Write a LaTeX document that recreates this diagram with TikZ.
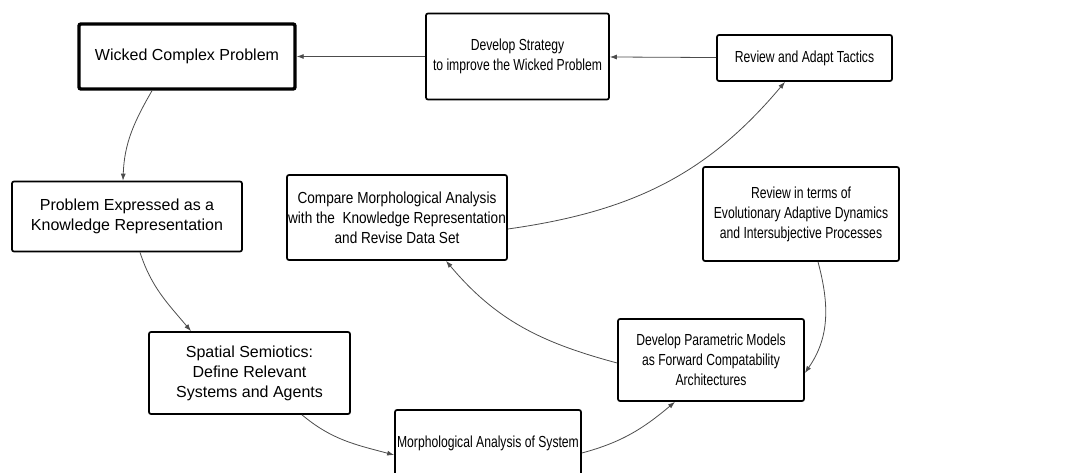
\documentclass[tikz,border=0pt]{standalone}
\usepackage{fontspec}
\setmainfont{Liberation Sans}
\newfontfamily\narrowsans{Liberation Sans}[FakeStretch=0.76]
\newfontfamily\midsans{Liberation Sans}[FakeStretch=0.85]
\usetikzlibrary{positioning, arrows.meta}

\begin{document}
\begin{tikzpicture}[node distance=160pt, auto,
    box/.style={rectangle, draw, line width=1.7pt, rounded corners=2pt, align=center, inner sep=1pt,
        font=\fontsize{16}{20}\selectfont},
    narrowbox/.style={box, font=\narrowsans\fontsize{16}{20}\selectfont},
    flow/.style={-{Latex[length=7pt,width=5pt]}, draw=black!70, line width=0.8pt}]
            \useasboundingbox (0pt,0pt) rectangle (1092pt,-473pt);

            % Nodes
            \node (wicked) [box, line width=3.4pt, minimum width=216pt, minimum height=65pt] at (187pt,-56.5pt) {Wicked Complex Problem};
            \node (strategy) [narrowbox, minimum width=183pt, minimum height=86pt, right of=wicked, xshift=170.5pt] {Develop Strategy\\to improve the Wicked Problem};
            \node (tactics) [narrowbox, minimum width=175pt, minimum height=46pt, right of=strategy, xshift=127pt, yshift=-1.5pt] {Review and Adapt Tactics};
            \node (problem) [box, minimum width=230pt, minimum height=70pt, below of=wicked, xshift=-60pt] {Problem Expressed as a\\Knowledge Representation};
            \node (compare) [box, font=\midsans\fontsize{16}{20}\selectfont, minimum width=220pt, minimum height=85pt, right of=problem, xshift=110pt, yshift=-1pt] {Compare Morphological Analysis\\with the~ Knowledge Representation\\and Revise Data Set};
            \node (review) [narrowbox, minimum width=196pt, minimum height=94pt, below of=tactics, xshift=-3.5pt, yshift=4pt] {Review in terms of\\Evolutionary Adaptive Dynamics\\and Intersubjective Processes};
            \node (spatial) [box, minimum width=201pt, minimum height=82pt, below of=problem, xshift=122.5pt, yshift=3.5pt] {Spatial Semiotics:\\Define Relevant\\Systems and Agents};
            \node (parametric) [narrowbox, minimum width=186pt, minimum height=82pt, below of=review, xshift=-90pt, yshift=14pt] {Develop Parametric Models\\as Forward Compatability\\Architectures};
            \node (morph) [narrowbox, minimum width=186pt, minimum height=66pt, right of=spatial, xshift=78.5pt, yshift=-70pt] {Morphological Analysis of System};

            % Arrows
            \draw[flow] (tactics) -- (strategy);
            \draw[flow] (strategy) -- (wicked);
            \draw[flow] ([xshift=-35pt]wicked.south) to[out=240, in=88] ([xshift=-4pt]problem.north);
            \draw[flow] ([xshift=13pt]problem.south) to[out=-72, in=130] ([xshift=-58.5pt]spatial.north);
            \draw[flow] ([xshift=52.5pt]spatial.south) to[out=-40, in=165] ([yshift=-12pt]morph.west);
            \draw[flow] ([yshift=-10pt]morph.east) to[out=15, in=-140] ([xshift=-36pt]parametric.south);
            \draw[flow] ([yshift=-3pt]parametric.west) to[out=165, in=-50] ([xshift=49pt]compare.south);
            \draw[flow] ([yshift=-11.5pt]compare.east) to[out=8, in=-130] ([xshift=-19.5pt]tactics.south);
            \draw[flow] ([xshift=17pt]review.south) to[out=-75, in=55] ([yshift=-13pt]parametric.east);
\end{tikzpicture}
\end{document}
